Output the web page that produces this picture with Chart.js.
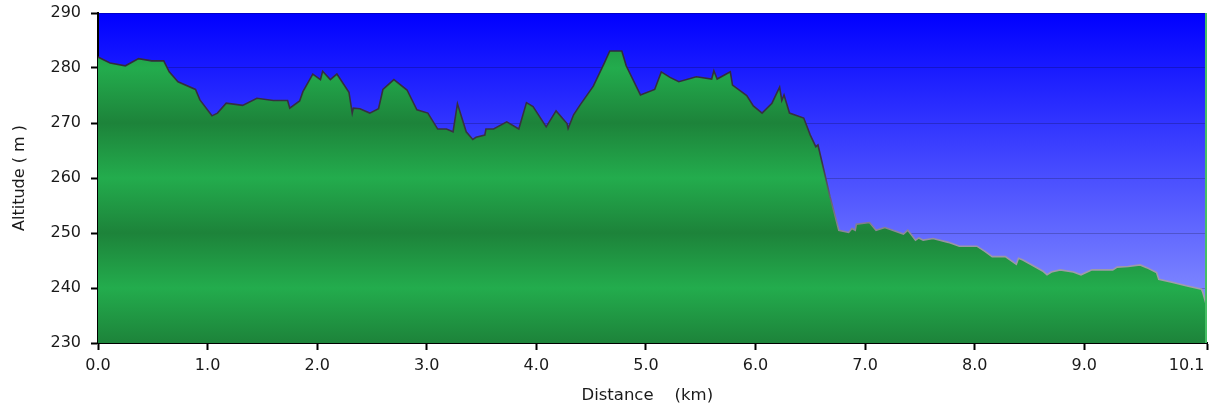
<!DOCTYPE html>
<html>
<head>
<meta charset="utf-8">
<title>Altitude profile</title>
<script src="https://cdn.jsdelivr.net/npm/chart.js@4/dist/chart.umd.min.js"></script>
<style>
    html, body { margin: 0; padding: 0; background: #fff; }
</style>
</head>
<body>
<canvas id="profileChart" width="1218" height="410"></canvas>
<script>
// distance along the track (km) and altitude (m)
const distanceKm = [
    0.00, 0.11, 0.25, 0.37, 0.49, 0.60, 0.65, 0.73, 0.89, 0.93,
    1.04, 1.09, 1.17, 1.32, 1.45, 1.60, 1.73, 1.75, 1.84, 1.87,
    1.96, 2.03, 2.05, 2.12, 2.18, 2.29, 2.32, 2.33, 2.39, 2.48,
    2.56, 2.60, 2.70, 2.82, 2.91, 3.01, 3.10, 3.18, 3.24, 3.28,
    3.36, 3.42, 3.45, 3.53, 3.54, 3.61, 3.73, 3.84, 3.91, 3.97,
    4.09, 4.18, 4.28, 4.29, 4.34, 4.40, 4.52, 4.62, 4.67, 4.78,
    4.82, 4.95, 5.08, 5.14, 5.22, 5.30, 5.46, 5.60, 5.62, 5.65,
    5.77, 5.79, 5.92, 5.98, 6.06, 6.15, 6.22, 6.24, 6.26, 6.31,
    6.44, 6.50, 6.55, 6.57, 6.63, 6.68, 6.72, 6.76, 6.85, 6.88,
    6.91, 6.92, 7.04, 7.10, 7.18, 7.35, 7.39, 7.46, 7.49, 7.53,
    7.62, 7.76, 7.86, 8.02, 8.09, 8.16, 8.28, 8.38, 8.40, 8.44,
    8.62, 8.66, 8.70, 8.78, 8.90, 8.97, 9.07, 9.26, 9.30, 9.40,
    9.51, 9.57, 9.66, 9.68, 9.81, 9.93, 10.07, 10.08, 10.12
];
const altitudeM = [
    282.0, 280.9, 280.4, 281.7, 281.3, 281.3, 279.3, 277.5, 276.1, 274.2,
    271.3, 271.8, 273.6, 273.2, 274.5, 274.1, 274.1, 272.7, 274.0, 275.7,
    278.9, 277.9, 279.4, 277.9, 278.9, 275.6, 271.8, 272.7, 272.6, 271.8,
    272.6, 276.1, 277.9, 276.0, 272.4, 271.8, 268.9, 268.9, 268.4, 273.5,
    268.4, 267.0, 267.4, 267.8, 268.9, 268.9, 270.2, 268.9, 273.7, 273.0,
    269.3, 272.2, 269.9, 269.0, 271.5, 273.3, 276.7, 280.9, 283.1, 283.1,
    280.4, 275.1, 276.1, 279.3, 278.3, 277.5, 278.4, 278.0, 279.5, 278.0,
    279.3, 276.9, 275.0, 273.1, 271.8, 273.6, 276.5, 274.1, 275.1, 271.8,
    270.9, 267.8, 265.7, 266.0, 260.9, 256.6, 253.6, 250.5, 250.1, 250.8,
    250.5, 251.6, 251.9, 250.5, 251.0, 249.8, 250.5, 248.7, 249.1, 248.7,
    249.0, 248.3, 247.6, 247.6, 246.7, 245.7, 245.7, 244.3, 245.4, 245.1,
    243.1, 242.4, 242.9, 243.3, 242.9, 242.4, 243.3, 243.3, 243.8, 243.9,
    244.2, 243.7, 242.8, 241.6, 241.0, 240.4, 239.8, 239.3, 236.5
];
const altitudeTicks = [230, 240, 250, 260, 270, 280, 290];
const distanceTicks = [0, 1, 2, 3, 4, 5, 6, 7, 8, 9, 10.12];

const axisFont = { family: 'DejaVu Sans', size: 16 };
const titleFont = { family: 'DejaVu Sans', size: 16.5 };
const textColor = '#1a1a1a';

// green fill, darker at every other grid line
function bandFill(context) {
    const chart = context.chart;
    const area = chart.chartArea;
    if (!area) return 'rgb(33,160,72)';
    const y = chart.scales.y;
    const span = area.bottom - area.top;
    const g = chart.ctx.createLinearGradient(0, area.bottom, 0, area.top);
    altitudeTicks.forEach((v, i) => {
        const stop = (area.bottom - y.getPixelForValue(v)) / span;
        g.addColorStop(Math.min(Math.max(stop, 0), 1), i % 2 === 0 ? 'rgb(29,131,58)' : 'rgb(35,172,77)');
    });
    return g;
}

function lineStroke(context) {
    const chart = context.chart;
    const area = chart.chartArea;
    if (!area) return '#444';
    const g = chart.ctx.createLinearGradient(0, area.top, 0, area.bottom);
    g.addColorStop(0, '#2e2838');
    g.addColorStop(0.45, '#3a3444');
    g.addColorStop(0.7, '#9a96a4');
    g.addColorStop(1, '#aaa8b0');
    return g;
}

// labels must not push the plot area in
function noLabelPadding(scale) {
    scale.paddingTop = 0;
    scale.paddingBottom = 0;
    scale.paddingLeft = 0;
    scale.paddingRight = 0;
}

const plotBackground = {
    id: 'plotBackground',
    beforeDraw(chart) {
        const { ctx, chartArea: a } = chart;
        const g = ctx.createLinearGradient(0, a.top, 0, a.bottom);
        g.addColorStop(0, 'rgb(0,0,255)');
        g.addColorStop(1, 'rgb(148,158,255)');
        ctx.save();
        ctx.fillStyle = g;
        ctx.fillRect(a.left, a.top, a.right - a.left, a.bottom - a.top);
        ctx.restore();
    },
    afterDatasetsDraw(chart) {
        const { ctx, chartArea: a } = chart;
        ctx.save();
        ctx.strokeStyle = 'rgb(70,190,100)';
        ctx.lineWidth = 2;
        ctx.beginPath();
        ctx.moveTo(a.right - 1, a.top);
        ctx.lineTo(a.right - 1, a.bottom);
        ctx.stroke();
        ctx.restore();
    }
};

new Chart(document.getElementById('profileChart'), {
    type: 'line',
    data: {
        datasets: [{
            label: 'Altitude',
            data: distanceKm.map((d, i) => ({ x: d, y: altitudeM[i] })),
            borderColor: lineStroke,
            borderWidth: 1.6,
            backgroundColor: bandFill,
            fill: 'start',
            pointRadius: 0,
            tension: 0
        }]
    },
    options: {
        responsive: false,
        animation: false,
        layout: { autoPadding: false, padding: { top: 13, right: 11, bottom: 0, left: 0 } },
        plugins: { legend: { display: false }, tooltip: { enabled: false } },
        scales: {
            x: {
                type: 'linear',
                min: 0,
                max: distanceTicks[distanceTicks.length - 1],
                z: 1,
                afterBuildTicks: scale => { scale.ticks = distanceTicks.map(v => ({ value: v })); },
                afterFit: scale => { scale.height = 67; noLabelPadding(scale); },
                ticks: {
                    font: axisFont,
                    color: textColor,
                    padding: 6,
                    maxRotation: 0,
                    autoSkip: false,
                    // last label sits left of its tick, as in the reference
                    callback: (v, i, ticks) => i === ticks.length - 1
                        ? v.toFixed(1) + '\u00a0\u00a0\u00a0\u00a0\u00a0\u00a0\u00a0\u00a0'
                        : v.toFixed(1)
                },
                grid: { drawOnChartArea: false, tickLength: 7, tickColor: '#000', tickWidth: 2 },
                border: { color: '#000', width: 2 },
                title: {
                    display: true,
                    text: 'Distance    (km)  ',
                    font: titleFont,
                    color: textColor,
                    padding: { top: 0, bottom: 4 }
                }
            },
            y: {
                min: 230,
                max: 290,
                z: 1,
                afterBuildTicks: scale => { scale.ticks = altitudeTicks.map(v => ({ value: v })); },
                afterFit: scale => { scale.width = 98; noLabelPadding(scale); },
                ticks: { font: axisFont, color: textColor, padding: 10 },
                grid: { color: 'rgba(0,0,0,0.2)', lineWidth: 1, tickLength: 7, tickColor: '#000', tickWidth: 2 },
                border: { color: '#000', width: 2 },
                title: {
                    display: true,
                    text: 'Altitude ( m )',
                    font: axisFont,
                    color: textColor,
                    padding: { top: 10, bottom: 0 }
                }
            }
        }
    },
    plugins: [plotBackground]
});
</script>
</body>
</html>
